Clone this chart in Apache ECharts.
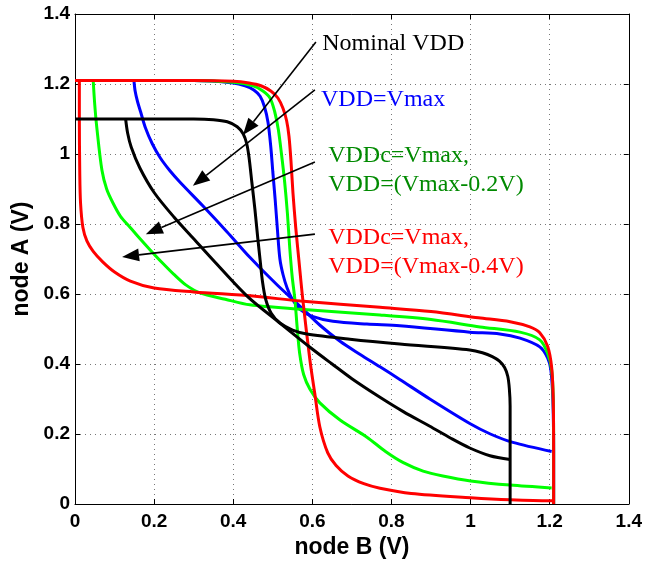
<!DOCTYPE html>
<html>
<head>
<meta charset="utf-8">
<script src="https://cdn.jsdelivr.net/npm/echarts@6/dist/echarts.min.js"></script>
<style>
  html, body { margin: 0; padding: 0; background: #fff; }
  #chart { width: 645px; height: 564px; }
</style>
</head>
<body>
<div id="chart"></div>
<script>
// Butterfly curves: node A vs node B for four supply conditions.
// Each condition has a steep "S" transfer curve and a mirrored partner.

const xTickLabels = ['0', '0.2', '0.4', '0.6', '0.8', '1', '1.2', '1.4'];
const yTickLabels = ['0', '0.2', '0.4', '0.6', '0.8', '1', '1.2', '1.4'];

// VDD = Vmax (blue)
const blueS = [[0,1.21],[0.3,1.21],[0.4,1.203],[0.43,1.195],[0.452,1.183],[0.468,1.165],[0.479,1.135],[0.488,1.09],[0.495,1.02],[0.5,0.95],[0.506,0.87],[0.512,0.78],[0.518,0.7],[0.526,0.655],[0.536,0.618],[0.548,0.588],[0.569,0.556],[0.6,0.536],[0.652,0.522],[0.738,0.514],[0.821,0.509],[0.998,0.491],[1.074,0.486],[1.125,0.474],[1.175,0.449],[1.195,0.417],[1.203,0.383],[1.208,0.3],[1.21,0.15],[1.21,0]];
const blueD = [[0.149,1.21],[0.152,1.18],[0.158,1.15],[0.166,1.12],[0.178,1.075],[0.195,1.03],[0.215,0.99],[0.24,0.952],[0.265,0.92],[0.323,0.852],[0.384,0.778],[0.442,0.705],[0.51,0.627],[0.569,0.565],[0.62,0.51],[0.67,0.465],[0.72,0.428],[0.771,0.392],[0.821,0.356],[0.897,0.3],[0.998,0.23],[1.05,0.2],[1.107,0.176],[1.205,0.15]];

// VDDc = Vmax, VDD = Vmax - 0.2V (green)
const greenS = [[0,1.21],[0.3,1.21],[0.4,1.205],[0.45,1.195],[0.475,1.18],[0.493,1.16],[0.505,1.12],[0.514,1.07],[0.522,1.0],[0.53,0.92],[0.537,0.83],[0.543,0.73],[0.549,0.65],[0.556,0.583],[0.562,0.5],[0.568,0.43],[0.578,0.37],[0.594,0.328],[0.619,0.289],[0.67,0.24],[0.738,0.191],[0.785,0.15],[0.83,0.118],[0.88,0.094],[0.93,0.08],[1.0,0.066],[1.1,0.054],[1.205,0.046]];
const greenD = [[0.046,1.21],[0.05,1.14],[0.055,1.077],[0.068,0.954],[0.08,0.9],[0.096,0.86],[0.115,0.822],[0.139,0.791],[0.165,0.757],[0.19,0.726],[0.22,0.69],[0.25,0.656],[0.28,0.626],[0.316,0.603],[0.38,0.585],[0.442,0.569],[0.561,0.557],[0.771,0.54],[0.9,0.527],[1.024,0.506],[1.125,0.491],[1.175,0.469],[1.195,0.43],[1.205,0.383],[1.209,0.3],[1.21,0.15],[1.21,0]];

// VDDc = Vmax, VDD = Vmax - 0.4V (red)
const redS = [[0,1.21],[0.3,1.21],[0.4,1.208],[0.44,1.203],[0.47,1.195],[0.495,1.18],[0.513,1.16],[0.526,1.13],[0.535,1.095],[0.541,1.05],[0.546,0.98],[0.551,0.889],[0.558,0.79],[0.566,0.697],[0.576,0.583],[0.594,0.41],[0.606,0.317],[0.619,0.22],[0.639,0.146],[0.66,0.11],[0.69,0.08],[0.73,0.058],[0.771,0.045],[0.85,0.03],[1.0,0.018],[1.1,0.012],[1.2,0.009],[1.21,0.009]];
const redD = [[0.011,1.21],[0.011,1.1],[0.012,0.95],[0.014,0.86],[0.02,0.79],[0.03,0.752],[0.046,0.722],[0.07,0.692],[0.1,0.663],[0.14,0.637],[0.2,0.617],[0.3,0.606],[0.45,0.594],[0.57,0.58],[0.771,0.562],[0.9,0.55],[1.02,0.532],[1.1,0.521],[1.15,0.506],[1.175,0.489],[1.195,0.45],[1.205,0.39],[1.209,0.3],[1.21,0.15],[1.21,0]];

// Nominal VDD (black)
const blackS = [[0,1.1],[0.3,1.1],[0.35,1.098],[0.385,1.092],[0.41,1.078],[0.425,1.058],[0.434,1.03],[0.44,0.99],[0.447,0.92],[0.455,0.84],[0.462,0.76],[0.468,0.697],[0.474,0.635],[0.482,0.585],[0.496,0.545],[0.518,0.517],[0.55,0.497],[0.586,0.486],[0.695,0.471],[0.821,0.457],[0.998,0.44],[1.03,0.432],[1.055,0.421],[1.073,0.408],[1.086,0.39],[1.094,0.365],[1.098,0.33],[1.1,0.28],[1.1,0.15],[1.1,0]];
const blackD = [[0.128,1.1],[0.133,1.06],[0.142,1.02],[0.164,0.96],[0.2,0.89],[0.25,0.82],[0.3,0.758],[0.349,0.697],[0.435,0.594],[0.518,0.517],[0.594,0.448],[0.65,0.4],[0.7,0.358],[0.771,0.305],[0.83,0.264],[0.897,0.222],[0.95,0.188],[0.998,0.16],[1.049,0.138],[1.1,0.127]];

// Callout labels and the curve points their arrows reach (axis units)
const callouts = [
  { lines: ['Nominal VDD'], color: '#000000', from: [0.609, 1.32], to: [0.4246, 1.054], textAt: [0.625, 1.314] },
  { lines: ['VDD=Vmax'], color: '#0000ff', from: [0.6065, 1.183], to: [0.298, 0.909], textAt: [0.622, 1.154] },
  { lines: ['VDDc=Vmax,', 'VDD=(Vmax-0.2V)'], color: '#008a00', from: [0.6065, 0.977], to: [0.179, 0.771], textAt: [0.64, 0.994] },
  { lines: ['VDDc=Vmax,', 'VDD=(Vmax-0.4V)'], color: '#ff0000', from: [0.6065, 0.771], to: [0.119, 0.706], textAt: [0.64, 0.76] }
];

const chart = echarts.init(document.getElementById('chart'), null, { renderer: 'canvas' });

const labelFont = { fontFamily: 'Liberation Sans', fontWeight: 'bold', fontSize: 19, color: '#000' };

function curve(name, data, color, width) {
  return {
    name: name,
    type: 'line',
    data: data,
    showSymbol: false,
    smooth: 0.3,
    xAxisIndex: 0,
    yAxisIndex: 0,
    lineStyle: { color: color, width: width },
    animation: false,
    z: 3
  };
}

const valueAxisBase = {
  type: 'value',
  min: 0,
  max: 1.4,
  interval: 0.2,
  axisLine: { show: true, onZero: false, lineStyle: { color: '#000', width: 1 } },
  axisTick: { show: true, inside: true, length: 5, lineStyle: { color: '#000' } }
};

chart.setOption({
  animation: false,
  backgroundColor: '#ffffff',
  grid: { left: 75, top: 14, right: 16, bottom: 60, containLabel: false },
  xAxis: [
    Object.assign({}, valueAxisBase, {
      position: 'bottom',
      name: 'node B (V)',
      nameLocation: 'middle',
      nameGap: 32,
      nameTextStyle: { fontFamily: 'Liberation Sans', fontWeight: 'bold', fontSize: 23, color: '#000' },
      axisLabel: Object.assign({ margin: 8, formatter: (v, i) => xTickLabels[i] }, labelFont),
      splitLine: { show: true, lineStyle: { type: [1, 4], color: '#777', width: 1 } }
    }),
    Object.assign({}, valueAxisBase, {
      position: 'top',
      axisLabel: { show: false },
      splitLine: { show: false }
    })
  ],
  yAxis: [
    Object.assign({}, valueAxisBase, {
      position: 'left',
      name: 'node A (V)',
      nameLocation: 'middle',
      nameGap: 40,
      nameTextStyle: { fontFamily: 'Liberation Sans', fontWeight: 'bold', fontSize: 23, color: '#000' },
      axisLabel: Object.assign({ margin: 5, formatter: (v, i) => yTickLabels[i] }, labelFont),
      splitLine: { show: true, lineStyle: { type: [1, 4], color: '#777', width: 1 } }
    }),
    Object.assign({}, valueAxisBase, {
      position: 'right',
      axisLabel: { show: false },
      splitLine: { show: false }
    })
  ],
  series: [
    curve('VDD=Vmax S', blueS, '#0000ff', 3),
    curve('VDD=Vmax D', blueD, '#0000ff', 3),
    curve('VDD=Vmax-0.2V S', greenS, '#00ff00', 3),
    curve('VDD=Vmax-0.2V D', greenD, '#00ff00', 3),
    curve('VDD=Vmax-0.4V S', redS, '#ff0000', 3),
    curve('VDD=Vmax-0.4V D', redD, '#ff0000', 3),
    curve('Nominal S', blackS, '#000000', 3),
    curve('Nominal D', blackD, '#000000', 3)
  ]
});

// Callout arrows and texts, placed through the grid's coordinate system
const graphics = [];
const toPx = p => chart.convertToPixel({ gridIndex: 0 }, p);
const headLen = 17, headHalf = 6.5, lineGap = 29;

callouts.forEach(c => {
  const a = toPx(c.from), b = toPx(c.to);
  const dx = b[0] - a[0], dy = b[1] - a[1];
  const len = Math.hypot(dx, dy);
  const ux = dx / len, uy = dy / len;
  const bx = b[0] - ux * headLen, by = b[1] - uy * headLen;
  graphics.push({
    type: 'line', silent: true, z: 10,
    shape: { x1: a[0], y1: a[1], x2: bx, y2: by },
    style: { stroke: '#000', lineWidth: 1.6 }
  });
  graphics.push({
    type: 'polygon', silent: true, z: 10,
    shape: { points: [[b[0], b[1]], [bx - uy * headHalf, by + ux * headHalf], [bx + uy * headHalf, by - ux * headHalf]] },
    style: { fill: '#000' }
  });
  const t = toPx(c.textAt);
  c.lines.forEach((line, k) => {
    graphics.push({
      type: 'text', silent: true, z: 10,
      x: t[0], y: t[1] + k * lineGap,
      style: {
        text: line, fill: c.color,
        font: '24px "Liberation Serif"',
        textAlign: 'left', textVerticalAlign: 'middle'
      }
    });
  });
});

chart.setOption({ graphic: graphics });
</script>
</body>
</html>
